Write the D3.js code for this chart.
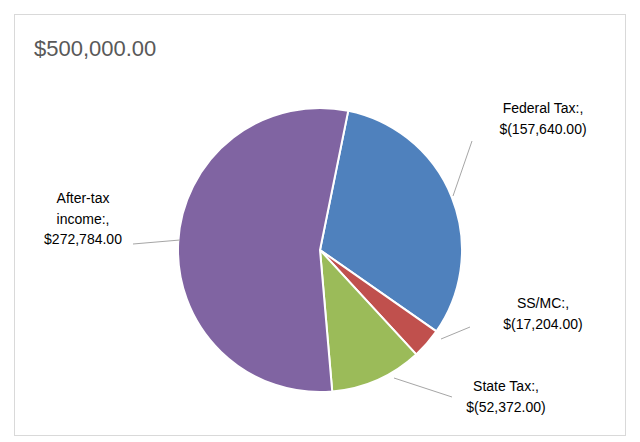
<!DOCTYPE html>
<html><head><meta charset="utf-8">
<script src="https://cdn.jsdelivr.net/npm/d3@7"></script>
<style>body{margin:0;background:#fff;font-family:"Liberation Sans",Arial,sans-serif}</style>
</head><body><svg id="c" width="640" height="442"></svg>
<script>
const title = "$500,000.00";
const categories = ["Federal Tax:", "SS/MC:", "State Tax:", "After-tax income:"];
const values = [157640, 17204, 52372, 272784];
const valueLabels = ["$(157,640.00)", "$(17,204.00)", "$(52,372.00)", "$272,784.00"];
const colors = ["#4F81BD", "#C0504D", "#9BBB59", "#8064A2"];

const svg = d3.select("#c");
svg.append("rect").attr("x",14.5).attr("y",14.5).attr("width",611).attr("height",421)
  .attr("fill","#fff").attr("stroke","#d9d9d9");
svg.append("text").attr("x",34).attr("y",56).attr("font-size",22).attr("fill","#595959").text(title);

const cx=320, cy=250, r=142;
const start=0.2;
const pie=d3.pie().sort(null).startAngle(start).endAngle(start+2*Math.PI)(values);
const arc=d3.arc().innerRadius(0).outerRadius(r);
const g=svg.append("g").attr("transform",`translate(${cx},${cy})`);
g.selectAll("path").data(pie).join("path").attr("d",arc)
  .attr("fill",(d,i)=>colors[i]).attr("stroke","#fff").attr("stroke-width",2);

// label layouts: [text lines, anchor x, first baseline y, anchor, leader points]
const labels=[
  {lines:[categories[0]+",",valueLabels[0]],x:543,y:113,anchor:"middle",leader:[[472,141],[453,196]]},
  {lines:[categories[1]+",",valueLabels[1]],x:543,y:308,anchor:"middle",leader:[[470,327],[441,339]]},
  {lines:[categories[2]+",",valueLabels[2]],x:506,y:391,anchor:"middle",leader:[[452,397],[394,378]]},
  {lines:["After-tax","income:,",valueLabels[3]],x:83,y:203,anchor:"middle",leader:[[133,244],[180,240]]}
];
labels.forEach(l=>{
  svg.append("polyline").attr("points",l.leader.map(p=>p.join(",")).join(" "))
    .attr("fill","none").attr("stroke","#a6a6a6").attr("stroke-width",1);
  const t=svg.append("text").attr("x",l.x).attr("y",l.y).attr("text-anchor",l.anchor)
    .attr("font-size",14).attr("fill","#000");
  l.lines.forEach((s,i)=>t.append("tspan").attr("x",l.x).attr("dy",i?20.5:0).text(s));
});
</script></body></html>
